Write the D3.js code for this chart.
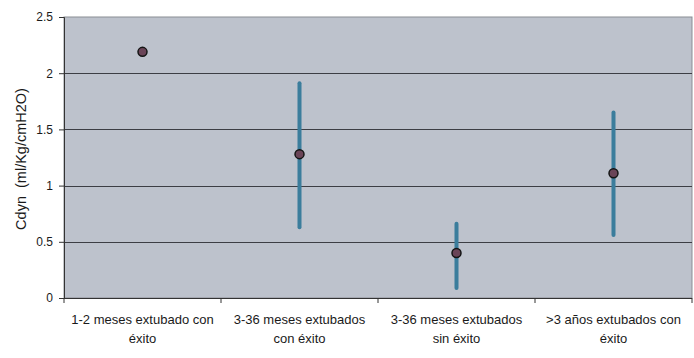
<!DOCTYPE html>
<html>
<head>
<meta charset="utf-8">
<script src="https://cdn.jsdelivr.net/npm/d3@7"></script>
<style>
  body { margin: 0; background: #fff; }
  svg { font-family: "Liberation Sans", Arial, sans-serif; }
</style>
</head>
<body>
<div id="Data"></div>
<script>
// category labels (two lines each)
const categories = [
  ["1-2 meses extubado con", "éxito"],
  ["3-36 meses extubados", "con éxito"],
  ["3-36 meses extubados", "sin éxito"],
  [">3 años extubados con", "éxito"]
];
const means = [2.19, 1.28, 0.40, 1.11];
const lows  = [null, 0.63, 0.09, 0.56];
const highs = [null, 1.91, 0.66, 1.65];
const yTicks = [0, 0.5, 1, 1.5, 2, 2.5];

var margin = {top: 17, right: 2, bottom: 60, left: 64},
    width = 694 - margin.left - margin.right,
    height = 358 - margin.top - margin.bottom;

const svg = d3.select("#Data").append("svg")
      .attr("width", 694)
      .attr("height", 358)
      .append("g")
      .attr("transform", "translate(" + margin.left + "," + margin.top + ")");

var keys = categories.map(function(d, i) { return i; });

var x = d3.scaleBand()
    .domain(keys)
    .range([0, width]);

var y = d3.scaleLinear()
    .domain([0, 2.5])
    .range([height, 0]);

// plot background
svg.append("rect")
    .attr("width", width)
    .attr("height", height)
    .attr("fill", "#bdc2cc")
    .attr("stroke", "#8a8d94")
    .attr("stroke-width", 1);

// gridlines
svg.selectAll(".grid")
    .data(yTicks.filter(function(t) { return t > 0 && t < 2.5; }))
    .enter()
    .append("line")
    .attr("x1", 0)
    .attr("x2", width)
    .attr("y1", function(d) { return Math.round(y(d)) + 0.5; })
    .attr("y2", function(d) { return Math.round(y(d)) + 0.5; })
    .attr("stroke", "#3c3e44")
    .attr("stroke-width", 1);

// y axis
var yAxis = svg.append("g")
    .call(d3.axisLeft(y).tickValues(yTicks).tickSize(5).tickPadding(6)
        .tickFormat(function(d) { return d; }));
yAxis.select(".domain").attr("stroke", "#333");
yAxis.selectAll(".tick line").attr("stroke", "#333");
yAxis.selectAll("text").attr("font-size", "12px").attr("fill", "#1a1a1a")
    .attr("font-family", "Liberation Sans, Arial, sans-serif");

// x axis with ticks at category boundaries
var xg = svg.append("g")
    .attr("transform", "translate(0," + height + ")");
xg.append("line")
    .attr("x1", 0).attr("x2", width)
    .attr("y1", 0.5).attr("y2", 0.5)
    .attr("stroke", "#333");
xg.selectAll(".bt")
    .data(keys.concat([keys.length]))
    .enter()
    .append("line")
    .attr("x1", function(d) { return d * x.bandwidth(); })
    .attr("x2", function(d) { return d * x.bandwidth(); })
    .attr("y1", 0).attr("y2", 5)
    .attr("stroke", "#333");

var labels = xg.selectAll(".lab")
    .data(categories)
    .enter()
    .append("text")
    .attr("text-anchor", "middle")
    .attr("font-size", "13px")
    .attr("fill", "#1a1a1a")
    .attr("transform", function(d, i) {
        return "translate(" + (x(i) + x.bandwidth() / 2) + ",0)";
    });
labels.selectAll("tspan")
    .data(function(d) { return d; })
    .enter()
    .append("tspan")
    .attr("x", 0)
    .attr("y", function(d, j) { return 26 + j * 19; })
    .text(function(d) { return d; });

// y title
svg.append("text")
    .attr("transform", "translate(-38," + (y(1.25) + 1.5) + ")rotate(-90)")
    .attr("text-anchor", "middle")
    .attr("font-size", "14.5px")
    .attr("fill", "#1a1a1a")
    .attr("xml:space", "preserve")
    .text("Cdyn  (ml/Kg/cmH2O)");

// error bars
svg.selectAll(".err")
    .data(keys.filter(function(i) { return lows[i] !== null; }))
    .enter()
    .append("line")
    .attr("x1", function(i) { return x(i) + x.bandwidth() / 2; })
    .attr("x2", function(i) { return x(i) + x.bandwidth() / 2; })
    .attr("y1", function(i) { return y(lows[i]); })
    .attr("y2", function(i) { return y(highs[i]); })
    .attr("stroke", "#3b7d9c")
    .attr("stroke-width", 4)
    .attr("stroke-linecap", "round");

// mean points
svg.selectAll(".pt")
    .data(means)
    .enter()
    .append("circle")
    .attr("cx", function(d, i) { return x(i) + x.bandwidth() / 2; })
    .attr("cy", function(d) { return y(d); })
    .attr("r", 4.5)
    .attr("fill", "#6a4457")
    .attr("stroke", "#141414")
    .attr("stroke-width", 1.5);
</script>
</body>
</html>
